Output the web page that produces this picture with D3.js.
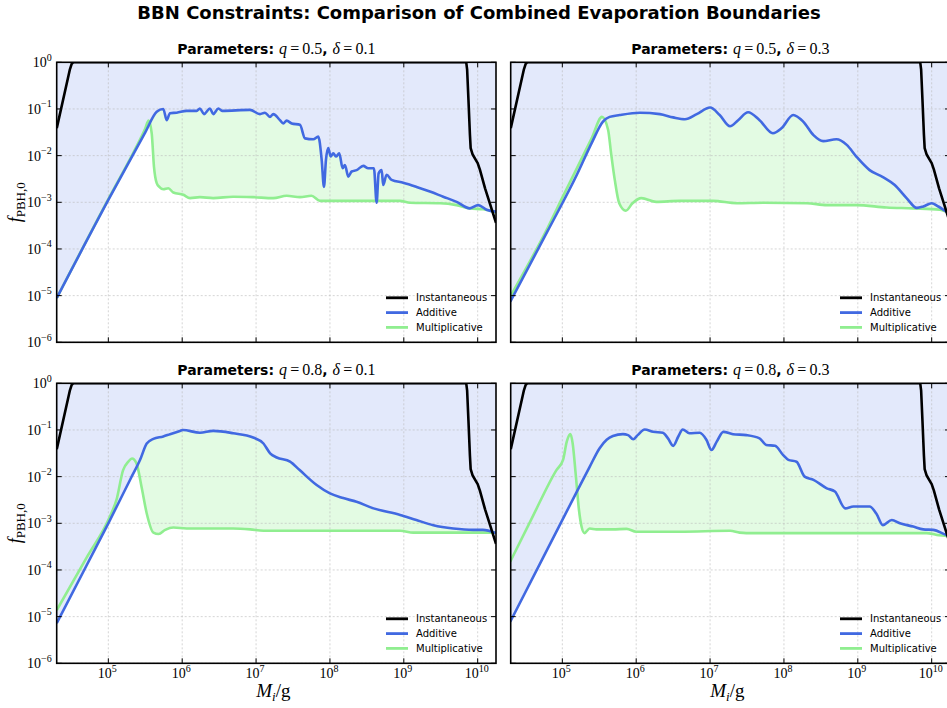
<!DOCTYPE html>
<html>
<head>
<meta charset="utf-8">
<script src="https://cdn.jsdelivr.net/npm/d3@7"></script>
<style>
  body { margin: 0; background: #fff; }
  svg { display: block; }
</style>
</head>
<body>
<div id="vis"></div>
<script>
// values are [log10 M_i (g), log10 f_PBH,0]

const instantaneous = [[4.302,-1.41],[4.48,-0.15],[4.505,-0.03],[4.525,0],[9.845,0],[9.857,-0.15],[9.875,-0.8],
  [9.895,-1.55],[9.905,-1.84],[9.93,-1.97],[9.97,-2.08],[10.0,-2.16],[10.03,-2.3],[10.1,-2.7],[10.17,-3.05],[10.248,-3.44]];

// q=0.5, delta=0.1
const addQ5D1 = [[4.302,-5.05],[5.0,-2.95],[5.5,-1.5],[5.655,-1.06],[5.744,-1.0],[5.79,-1.24],[5.835,-1.09],[5.925,-1.08],
  [6.06,-1.04],[6.196,-1.04],[6.24,-0.99],[6.295,-1.11],[6.376,-0.99],[6.42,-1.11],[6.49,-0.99],[6.54,-1.04],[6.917,-1.02],
  [7.053,-1.11],[7.12,-1.08],[7.188,-1.17],[7.233,-1.11],[7.323,-1.24],[7.368,-1.31],[7.414,-1.25],[7.482,-1.31],[7.594,-1.34],
  [7.662,-1.63],[7.774,-1.65],[7.842,-1.59],[7.888,-2.09],[7.919,-2.67],[7.946,-2.09],[7.977,-1.84],[8.01,-2.02],[8.045,-1.95],
  [8.081,-2.02],[8.126,-1.95],[8.172,-2.27],[8.203,-2.2],[8.248,-2.45],[8.294,-2.34],[8.361,-2.31],[8.451,-2.22],[8.518,-2.27],
  [8.595,-2.27],[8.632,-3.01],[8.659,-2.38],[8.7,-2.31],[8.721,-2.63],[8.767,-2.41],[8.835,-2.52],[8.992,-2.58],[9.173,-2.67],
  [9.353,-2.77],[9.533,-2.88],[9.714,-2.99],[9.894,-3.13],[10.007,-3.06],[10.12,-3.16],[10.248,-3.2]];
const mulQ5D1 = [[4.302,-5.05],[5.0,-2.93],[5.35,-1.9],[5.5,-1.42],[5.545,-1.25],[5.587,-1.52],[5.618,-2.24],[5.655,-2.59],
  [5.69,-2.67],[5.744,-2.72],[5.812,-2.7],[5.88,-2.79],[6.015,-2.84],[6.106,-2.91],[6.24,-2.89],[6.42,-2.91],[6.69,-2.88],
  [6.96,-2.89],[7.233,-2.91],[7.414,-2.86],[7.594,-2.89],[7.75,-2.86],[7.865,-2.97],[8.947,-2.97],[9.083,-3.01],[9.489,-3.02],
  [9.714,-3.06],[9.894,-3.13],[10.075,-3.15],[10.248,-3.22]];

// q=0.5, delta=0.3
const addQ5D3 = [[4.295,-5.13],[4.8,-3.62],[5.2,-2.4],[5.4,-1.72],[5.55,-1.27],[5.64,-1.17],[5.776,-1.13],[6.05,-1.08],
  [6.32,-1.11],[6.5,-1.18],[6.66,-1.22],
  [6.82,-1.11],[7.0,-0.97],[7.13,-1.13],[7.27,-1.37],[7.38,-1.24],[7.515,-1.07],[7.67,-1.24],[7.85,-1.52],[7.97,-1.41],
  [8.125,-1.13],[8.26,-1.27],[8.4,-1.56],[8.53,-1.69],[8.71,-1.65],[8.85,-1.77],[8.98,-2.02],[9.16,-2.31],[9.34,-2.46],
  [9.5,-2.63],[9.66,-2.91],[9.8,-3.12],[9.886,-3.09],[10.0,-3.02],[10.09,-3.09],[10.2,-3.2],[10.248,-3.24]];
const mulQ5D3 = [[4.295,-5.02],[4.8,-3.55],[5.0,-2.9],[5.4,-1.62],[5.537,-1.17],[5.62,-1.45],[5.66,-1.95],[5.71,-2.52],
  [5.77,-3.02],[5.86,-3.18],[5.95,-3.02],[6.07,-2.91],[6.27,-2.99],[6.59,-2.97],[7.04,-2.97],[7.36,-3.02],[7.72,-3.01],
  [8.31,-3.02],[8.58,-3.06],[8.98,-3.06],[9.39,-3.11],[9.75,-3.13],[10.11,-3.16],[10.2,-3.2],[10.248,-3.21]];

// q=0.8, delta=0.1
const addQ8D1 = [[4.302,-5.14],[4.7,-3.92],[5.0,-3.0],[5.3,-2.05],[5.43,-1.64],[5.52,-1.29],[5.61,-1.19],[5.744,-1.14],
  [5.835,-1.09],[5.97,-1.02],[6.01,-1.0],
  [6.24,-1.06],[6.42,-1.02],[6.69,-1.07],[6.96,-1.16],[7.1,-1.29],[7.19,-1.5],[7.28,-1.59],[7.46,-1.68],[7.59,-1.86],
  [7.82,-2.18],[8.0,-2.36],[8.18,-2.46],[8.36,-2.54],[8.59,-2.68],[8.95,-2.82],[9.17,-2.93],[9.4,-3.04],[9.67,-3.11],
  [9.94,-3.14],[10.07,-3.14],[10.248,-3.21]];
const mulQ8D1 = [[4.302,-4.86],[4.7,-3.75],[5.02,-2.86],[5.11,-2.5],[5.2,-1.86],[5.27,-1.68],[5.32,-1.61],[5.38,-1.71],
  [5.45,-2.22],[5.52,-2.79],[5.61,-3.2],[5.68,-3.23],[5.77,-3.14],[5.88,-3.09],[6.06,-3.11],[6.69,-3.11],[6.92,-3.13],
  [7.1,-3.16],[7.59,-3.16],[8.95,-3.16],[9.13,-3.2],[10.248,-3.2]];

// q=0.8, delta=0.3
const addQ8D3 = [[4.295,-5.11],[4.8,-3.55],[5.2,-2.31],[5.37,-1.79],[5.505,-1.39],[5.6,-1.21],[5.685,-1.13],[5.82,-1.09],
  [5.89,-1.11],[5.96,-1.2],
  [6.02,-1.11],[6.115,-0.99],[6.23,-1.04],[6.36,-1.06],[6.43,-1.18],[6.5,-1.34],[6.57,-1.14],[6.63,-0.99],[6.72,-1.07],
  [6.86,-1.06],[6.95,-1.21],[7.02,-1.43],[7.09,-1.25],[7.18,-1.04],[7.31,-1.09],[7.49,-1.11],[7.67,-1.18],[7.76,-1.32],
  [7.88,-1.34],[7.99,-1.54],[8.06,-1.64],[8.17,-1.68],[8.28,-2.0],[8.4,-2.07],[8.58,-2.25],[8.69,-2.32],[8.83,-2.68],
  [8.94,-2.64],[9.16,-2.64],[9.25,-2.79],[9.34,-3.04],[9.46,-2.93],[9.57,-3.0],[9.75,-3.07],[9.886,-3.13],[10.02,-3.14],
  [10.2,-3.25],[10.248,-3.27]];
const mulQ8D3 = [[4.295,-3.82],[4.6,-2.85],[4.92,-1.86],[5.01,-1.64],[5.06,-1.25],[5.11,-1.09],[5.14,-1.29],[5.18,-1.93],
  [5.225,-2.71],[5.26,-3.07],[5.3,-3.21],[5.37,-3.11],[5.46,-3.13],[5.685,-3.13],[5.87,-3.12],[6.0,-3.18],[6.59,-3.18],
  [7.27,-3.16],[7.4,-3.2],[7.49,-3.21],[9.93,-3.21],[10.07,-3.25],[10.2,-3.27],[10.248,-3.28]];

const qValues = ["0.5", "0.5", "0.8", "0.8"];
const deltaValues = ["0.1", "0.3", "0.1", "0.3"];
const additiveCurves = [addQ5D1, addQ5D3, addQ8D1, addQ8D3];
const multiplicativeCurves = [mulQ5D1, mulQ5D3, mulQ8D1, mulQ8D3];

const massDomain = [2e4, 1.77e10];
const fDomain = [1e-6, 1];
const xTickExps = [5, 6, 7, 8, 9, 10];
const yTickExps = [0, -1, -2, -3, -4, -5, -6];
const legendLabels = ["Instantaneous", "Additive", "Multiplicative"];

//#region layout
const W = 947, H = 708;
const colX = [[56.7, 496], [510.7, 950]];
const rowY = [[62.3, 342.3], [383.3, 663.3]];
const lineColors = ["#000000", "#4169e1", "#90ee90"];
const mathFont = "'Liberation Serif', 'DejaVu Serif', serif";
const sansFont = "'DejaVu Sans', sans-serif";
//#endregion

const svg = d3.select("#vis").append("svg")
  .attr("width", W).attr("height", H)
  .attr("viewBox", `0 0 ${W} ${H}`);

const defs = svg.append("defs");

svg.append("text")
  .attr("x", 479).attr("y", 19)
  .attr("text-anchor", "middle")
  .attr("font-family", sansFont).attr("font-weight", "bold").attr("font-size", 18)
  .text("BBN Constraints: Comparison of Combined Evaporation Boundaries");

const toPts = arr => arr.map(d => ({ m: Math.pow(10, d[0]), f: Math.pow(10, d[1]) }));

function powLabel(textSel, e, supSize) {
  textSel.append("tspan").text("10");
  textSel.append("tspan")
    .attr("dy", -6.5).attr("font-size", supSize)
    .text(e < 0 ? "\u2212" + (-e) : String(e));
}

for (let i = 0; i < 4; i++) {
  const row = Math.floor(i / 2), col = i % 2;
  const [x0, x1] = colX[col], [y0, y1] = rowY[row];

  const x = d3.scaleLog().domain(massDomain).range([x0, x1]);
  const y = d3.scaleLog().domain(fDomain).range([y1, y0]);

  const add = toPts(additiveCurves[i]);
  const mul = toPts(multiplicativeCurves[i]);
  const inst = toPts(instantaneous);

  const smooth = d3.curveMonotoneX;

  defs.append("clipPath").attr("id", "plot" + i)
    .append("rect").attr("x", x0).attr("y", y0).attr("width", x1 - x0).attr("height", y1 - y0);

  defs.append("clipPath").attr("id", "belowAdd" + i)
    .append("path")
    .attr("d", d3.area().x(d => x(d.m)).y0(y1 + 5).y1(d => y(d.f)).curve(smooth)(add));

  const g = svg.append("g");
  const plot = g.append("g").attr("clip-path", `url(#plot${i})`);

  // fills: excluded region above the additive bound, and the gap between the two bounds
  plot.append("path")
    .attr("d", d3.area().x(d => x(d.m)).y0(y0 - 5).y1(d => y(d.f)).curve(smooth)(add))
    .attr("fill", "#4169e1").attr("fill-opacity", 0.15);

  plot.append("g").attr("clip-path", `url(#belowAdd${i})`)
    .append("path")
    .attr("d", d3.area().x(d => x(d.m)).y0(y0 - 5).y1(d => y(d.f)).curve(smooth)(mul))
    .attr("fill", "#90ee90").attr("fill-opacity", 0.25);

  // grid
  const grid = plot.append("g")
    .attr("stroke", "#b8b8b8").attr("stroke-width", 0.6)
    .attr("stroke-dasharray", "2,2").attr("fill", "none");
  grid.selectAll(".gx").data(xTickExps).join("line")
    .attr("x1", e => x(Math.pow(10, e))).attr("x2", e => x(Math.pow(10, e)))
    .attr("y1", y0).attr("y2", y1);
  grid.selectAll(".gy").data(yTickExps).join("line")
    .attr("y1", e => y(Math.pow(10, e))).attr("y2", e => y(Math.pow(10, e)))
    .attr("x1", x0).attr("x2", x1);

  // curves
  const line = d3.line().x(d => x(d.m)).y(d => y(d.f));
  plot.append("path").attr("d", line.curve(smooth)(mul))
    .attr("fill", "none").attr("stroke", lineColors[2]).attr("stroke-width", 2.6).attr("stroke-linejoin", "round");
  plot.append("path").attr("d", line.curve(smooth)(add))
    .attr("fill", "none").attr("stroke", lineColors[1]).attr("stroke-width", 2.6).attr("stroke-linejoin", "round");
  plot.append("path").attr("d", line.curve(d3.curveLinear)(inst))
    .attr("fill", "none").attr("stroke", lineColors[0]).attr("stroke-width", 2.6).attr("stroke-linejoin", "round");

  // spines and inward ticks on all sides
  g.append("rect").attr("x", x0).attr("y", y0).attr("width", x1 - x0).attr("height", y1 - y0)
    .attr("fill", "none").attr("stroke", "#000").attr("stroke-width", 1.6);

  const ticks = g.append("g").attr("stroke", "#000").attr("stroke-width", 1);
  xTickExps.forEach(e => {
    const px = x(Math.pow(10, e));
    ticks.append("line").attr("x1", px).attr("x2", px).attr("y1", y1).attr("y2", y1 - 5);
    ticks.append("line").attr("x1", px).attr("x2", px).attr("y1", y0).attr("y2", y0 + 5);
  });
  yTickExps.forEach(e => {
    const py = y(Math.pow(10, e));
    ticks.append("line").attr("y1", py).attr("y2", py).attr("x1", x0).attr("x2", x0 + 5);
    ticks.append("line").attr("y1", py).attr("y2", py).attr("x1", x1).attr("x2", x1 - 5);
  });

  if (col === 0) {
    yTickExps.forEach(e => {
      const t = g.append("text")
        .attr("x", x0 - 5).attr("y", y(Math.pow(10, e)) + 5)
        .attr("text-anchor", "end")
        .attr("font-family", mathFont).attr("font-size", 14);
      powLabel(t, e, 10);
    });
    const yl = g.append("text")
      .attr("transform", `translate(21,${(y0 + y1) / 2}) rotate(-90)`)
      .attr("text-anchor", "middle")
      .attr("font-family", mathFont).attr("font-size", 18);
    yl.append("tspan").attr("font-style", "italic").text("f");
    yl.append("tspan").attr("dy", 4).attr("font-size", 13).text("PBH,0");
  }

  if (row === 1) {
    xTickExps.forEach(e => {
      const t = g.append("text")
        .attr("x", x(Math.pow(10, e)) - 1).attr("y", y1 + 15)
        .attr("text-anchor", "middle")
        .attr("font-family", mathFont).attr("font-size", 14);
      powLabel(t, e, 10);
    });
    const xl = g.append("text")
      .attr("x", (x0 + x1) / 2 - 3).attr("y", 697)
      .attr("text-anchor", "middle")
      .attr("font-family", mathFont).attr("font-size", 19);
    xl.append("tspan").attr("font-style", "italic").text("M");
    xl.append("tspan").attr("font-style", "italic").attr("font-size", 13).attr("dy", 4).text("i");
    xl.append("tspan").attr("dy", -4).text("/g");
  }

  // panel title
  const tt = g.append("text")
    .attr("x", (x0 + x1) / 2).attr("y", y0 - 8)
    .attr("text-anchor", "middle");
  tt.append("tspan").attr("font-family", sansFont).attr("font-weight", "bold").attr("font-size", 14).text("Parameters: ");
  tt.append("tspan").attr("font-family", mathFont).attr("font-style", "italic").attr("font-size", 16).text("q");
  tt.append("tspan").attr("font-family", mathFont).attr("font-size", 16).text("\u2009=\u2009" + qValues[i]);
  tt.append("tspan").attr("font-family", sansFont).attr("font-weight", "bold").attr("font-size", 14).text(", ");
  tt.append("tspan").attr("font-family", mathFont).attr("font-style", "italic").attr("font-size", 16).text("\u03b4");
  tt.append("tspan").attr("font-family", mathFont).attr("font-size", 16).text("\u2009=\u2009" + deltaValues[i]);

  // legend
  const lg = g.append("g").attr("transform", `translate(${x1 - 110},${y1 - 44.5})`);
  legendLabels.forEach((lab, k) => {
    lg.append("line").attr("x1", 0).attr("x2", 22).attr("y1", k * 14.8).attr("y2", k * 14.8)
      .attr("stroke", lineColors[k]).attr("stroke-width", 2.8);
    lg.append("text").attr("x", 30).attr("y", k * 14.8 + 3.6)
      .attr("font-family", sansFont).attr("font-size", 10).text(lab);
  });
}
</script>
</body>
</html>
